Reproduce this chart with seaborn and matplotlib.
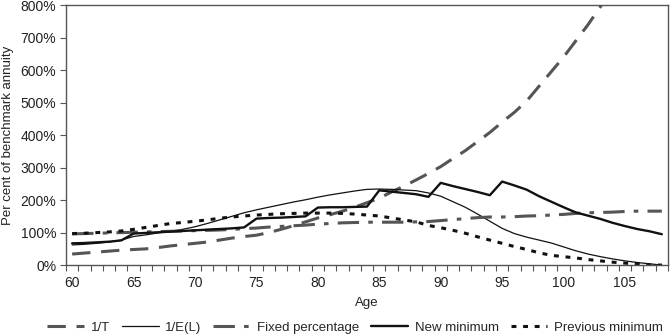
import matplotlib
matplotlib.use("Agg")
import matplotlib.pyplot as plt
import seaborn as sns
import numpy as np
from matplotlib.ticker import FixedLocator, FuncFormatter

ages = list(range(60, 109))

one_over_t = [34, 37, 40, 43, 46, 48, 50, 54, 59, 63, 67, 71, 77, 83, 88, 92, 100, 110, 121, 133,
              145, 155, 166, 178, 192, 206, 225, 243, 262, 282, 303, 328, 352, 380, 408, 440, 470,
              505, 550, 595, 640, 690, 740, 795, 850, 910, 975, 1040, 1110]
one_over_el = [62, 64, 67, 71, 77, 88, 93, 99, 104, 110, 118, 128, 139, 150, 161, 170, 178, 186,
               194, 201, 209, 216, 222, 228, 233, 234, 233, 231, 229, 222, 212, 195, 178, 157, 135,
               113, 97, 86, 77, 68, 56, 44, 34, 26, 19, 13, 8, 4, 0]
fixed_pct = [96, 97, 98, 99, 100, 101, 102, 103, 104, 105, 106, 107, 108, 110, 112, 114, 117, 119,
             121, 123, 126, 128, 130, 131, 132, 132, 132, 132, 133, 134, 137, 140, 143, 146, 148,
             148, 149, 151, 152, 154, 156, 159, 161, 162, 163, 165, 166, 166, 166]
new_min = [67, 68, 70, 72, 76, 97, 99, 101, 103, 105, 107, 109, 111, 113, 116, 143, 145, 146, 148,
           150, 177, 178, 178, 179, 180, 230, 226, 222, 218, 210, 253, 243, 234, 225, 215, 257,
           245, 232, 212, 195, 178, 162, 152, 142, 130, 120, 111, 104, 95]
prev_min = [97, 98, 100, 102, 105, 110, 116, 122, 128, 131, 135, 139, 144, 148, 151, 154, 156, 158,
            159, 160, 160, 160, 159, 157, 154, 151, 145, 139, 133, 122, 115, 107, 98, 87, 77, 67,
            57, 48, 38, 30, 26, 22, 17, 13, 9, 6, 4, 1, 0]

series_names = ["1/T", "1/E(L)", "Fixed percentage", "New minimum", "Previous minimum"]
series_values = [one_over_t, one_over_el, fixed_pct, new_min, prev_min]

sns.set_theme(style="white")
plt.rcParams["font.family"] = ["Liberation Sans", "DejaVu Sans"]
plt.rcParams["font.size"] = 10

styles = {
    "1/T": dict(color="#555555", linewidth=2.2, linestyle=(0, (6, 3.5))),
    "1/E(L)": dict(color="#111111", linewidth=0.9, linestyle="-"),
    "Fixed percentage": dict(color="#555555", linewidth=2.2, linestyle=(0, (7, 3, 1.5, 3))),
    "New minimum": dict(color="#111111", linewidth=1.7, linestyle="-"),
    "Previous minimum": dict(color="#111111", linewidth=2.2, linestyle=(0, (1.6, 2.2))),
}

fig, ax = plt.subplots(figsize=(6.7, 3.36), dpi=100)
fig.subplots_adjust(left=0.0985, right=0.997, top=0.985, bottom=0.211)

for name, vals in zip(series_names, series_values):
    sns.lineplot(x=ages, y=vals, ax=ax, label=name, **styles[name])

ax.set_xlim(59.5, 108.5)
ax.set_ylim(0, 800)

ax.yaxis.set_major_locator(FixedLocator(np.arange(0, 801, 100)))
ax.yaxis.set_major_formatter(FuncFormatter(lambda v, p: f"{int(v)}%"))
ax.xaxis.set_major_locator(FixedLocator(np.arange(60, 106, 5)))
ax.xaxis.set_minor_locator(FixedLocator(np.arange(59.5, 109, 1)))

ax.tick_params(axis="y", which="major", direction="out", length=4, width=0.8,
               color="#555555", labelsize=10, labelcolor="#222222", pad=3, left=True)
ax.tick_params(axis="x", which="major", length=0, labelsize=10, labelcolor="#222222", pad=8)
ax.tick_params(axis="x", which="minor", direction="out", length=4, width=0.8,
               color="#555555", bottom=True)

for side in ["left", "right", "top", "bottom"]:
    ax.spines[side].set_visible(True)
    ax.spines[side].set_color("#555555")
    ax.spines[side].set_linewidth(1.0)

ax.set_xlabel("Age", fontsize=9.5, color="#222222", labelpad=5)
ax.set_ylabel("Per cent of benchmark annuity", fontsize=9.5, color="#222222", labelpad=5)

handles, labels = ax.get_legend_handles_labels()
ax.get_legend().remove()
fig.legend(handles, labels, loc="lower center", bbox_to_anchor=(0.53, -0.028), ncol=5,
           frameon=False, fontsize=9.5, handlelength=2.8, columnspacing=0.9, handletextpad=0.5)

fig.savefig("out.png", dpi=100)
